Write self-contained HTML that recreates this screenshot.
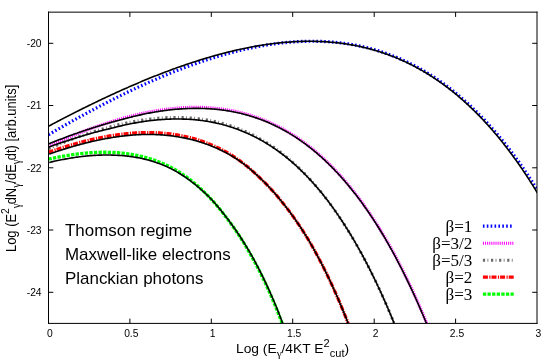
<!DOCTYPE html>
<html><head><meta charset="utf-8"><style>
html,body{margin:0;padding:0;background:#fff;}
svg{display:block;will-change:transform;opacity:0.999}
text{font-family:"Liberation Sans",sans-serif;fill:#000}
.tk{font-size:10.3px}
.lg{font-family:"Liberation Serif",serif;font-size:15.8px}
.an{font-size:15.9px}
.ax{font-size:12.85px}
.ss{font-size:10.3px}
.sy{font-family:"Liberation Serif",serif;font-size:10.6px}
</style></head><body>
<svg width="555" height="364" viewBox="0 0 555 364">
<rect width="555" height="364" fill="#fff"/>
<defs><clipPath id="cp"><rect x="48.5" y="12.15" width="488.5" height="311.25"/></clipPath></defs>
<g clip-path="url(#cp)">
<path d="M48.50,134.73 L49.72,134.01 L50.95,133.30 L52.17,132.58 L53.39,131.87 L54.61,131.16 L55.84,130.45 L57.06,129.75 L58.28,129.04 L59.50,128.34 L60.73,127.64 L61.95,126.94 L63.17,126.24 L64.39,125.54 L65.61,124.85 L66.84,124.16 L68.06,123.47 L69.28,122.78 L70.50,122.09 L71.73,121.40 L72.95,120.72 L74.17,120.04 L75.39,119.36 L76.62,118.68 L77.84,118.00 L79.06,117.33 L80.28,116.66 L81.51,115.99 L82.73,115.32 L83.95,114.65 L85.17,113.99 L86.40,113.32 L87.62,112.66 L88.84,112.00 L90.06,111.35 L91.29,110.69 L92.51,110.04 L93.73,109.39 L94.95,108.74 L96.18,108.09 L97.40,107.45 L98.62,106.81 L99.84,106.16 L101.07,105.53 L102.29,104.89 L103.51,104.26 L104.73,103.62 L105.96,102.99 L107.18,102.37 L108.40,101.74 L109.62,101.12 L110.85,100.50 L112.07,99.88 L113.29,99.26 L114.52,98.65 L115.74,98.04 L116.96,97.43 L118.18,96.82 L119.41,96.21 L120.63,95.61 L121.85,95.01 L123.07,94.41 L124.30,93.82 L125.52,93.22 L126.74,92.63 L127.96,92.04 L129.19,91.46 L130.41,90.87 L131.63,90.29 L132.85,89.71 L134.07,89.13 L135.30,88.56 L136.52,87.99 L137.74,87.42 L138.96,86.85 L140.19,86.29 L141.41,85.73 L142.63,85.17 L143.85,84.61 L145.08,84.06 L146.30,83.51 L147.52,82.96 L148.75,82.41 L149.97,81.87 L151.19,81.33 L152.41,80.79 L153.63,80.26 L154.86,79.73 L156.08,79.20 L157.30,78.67 L158.52,78.15 L159.75,77.63 L160.97,77.11 L162.19,76.59 L163.41,76.08 L164.64,75.57 L165.86,75.06 L167.08,74.56 L168.31,74.06 L169.53,73.56 L170.75,73.06 L171.97,72.57 L173.19,72.08 L174.42,71.60 L175.64,71.11 L176.86,70.63 L178.08,70.16 L179.31,69.68 L180.53,69.21 L181.75,68.74 L182.97,68.28 L184.20,67.82 L185.42,67.36 L186.64,66.90 L187.87,66.45 L189.09,66.00 L190.31,65.56 L191.53,65.11 L192.75,64.67 L193.98,64.24 L195.20,63.81 L196.42,63.38 L197.64,62.95 L198.87,62.53 L200.09,62.11 L201.31,61.70 L202.53,61.28 L203.76,60.87 L204.98,60.47 L206.20,60.07 L207.42,59.67 L208.65,59.28 L209.87,58.88 L211.09,58.50 L212.31,58.11 L213.54,57.73 L214.76,57.36 L215.98,56.98 L217.20,56.61 L218.43,56.25 L219.65,55.89 L220.87,55.53 L222.09,55.18 L223.32,54.83 L224.54,54.48 L225.76,54.14 L226.98,53.80 L228.21,53.46 L229.43,53.13 L230.65,52.80 L231.88,52.48 L233.10,52.16 L234.32,51.85 L235.54,51.54 L236.77,51.23 L237.99,50.93 L239.21,50.63 L240.43,50.33 L241.66,50.04 L242.88,49.76 L244.10,49.48 L245.32,49.20 L246.54,48.92 L247.77,48.65 L248.99,48.39 L250.21,48.13 L251.43,47.87 L252.66,47.62 L253.88,47.37 L255.10,47.13 L256.32,46.89 L257.55,46.66 L258.77,46.43 L259.99,46.20 L261.22,45.98 L262.44,45.77 L263.66,45.56 L264.88,45.35 L266.11,45.15 L267.33,44.95 L268.55,44.76 L269.77,44.57 L271.00,44.39 L272.22,44.21 L273.44,44.04 L274.66,43.87 L275.88,43.70 L277.11,43.55 L278.33,43.39 L279.55,43.24 L280.77,43.10 L282.00,42.96 L283.22,42.83 L284.44,42.70 L285.66,42.58 L286.89,42.46 L288.11,42.35 L289.33,42.24 L290.55,42.14 L291.78,42.04 L293.00,41.95 L294.22,41.86 L295.44,41.78 L296.67,41.71 L297.89,41.64 L299.11,41.57 L300.33,41.51 L301.56,41.46 L302.78,41.41 L304.00,41.37 L305.22,41.34 L306.45,41.30 L307.67,41.28 L308.89,41.26 L310.12,41.25 L311.34,41.24 L312.56,41.24 L313.78,41.24 L315.00,41.25 L316.23,41.27 L317.45,41.29 L318.67,41.32 L319.89,41.35 L321.12,41.39 L322.34,41.44 L323.56,41.49 L324.78,41.55 L326.01,41.62 L327.23,41.69 L328.45,41.77 L329.67,41.85 L330.90,41.94 L332.12,42.04 L333.34,42.14 L334.56,42.25 L335.79,42.37 L337.01,42.49 L338.23,42.62 L339.45,42.76 L340.68,42.90 L341.90,43.05 L343.12,43.21 L344.34,43.37 L345.57,43.54 L346.79,43.72 L348.01,43.90 L349.24,44.09 L350.46,44.29 L351.68,44.50 L352.90,44.71 L354.12,44.93 L355.35,45.16 L356.57,45.39 L357.79,45.63 L359.01,45.88 L360.24,46.14 L361.46,46.40 L362.68,46.67 L363.90,46.95 L365.13,47.24 L366.35,47.53 L367.57,47.83 L368.79,48.14 L370.02,48.46 L371.24,48.79 L372.46,49.12 L373.69,49.46 L374.91,49.81 L376.13,50.16 L377.35,50.53 L378.57,50.90 L379.80,51.28 L381.02,51.67 L382.24,52.07 L383.46,52.47 L384.69,52.89 L385.91,53.31 L387.13,53.74 L388.36,54.18 L389.58,54.63 L390.80,55.08 L392.02,55.55 L393.24,56.02 L394.47,56.50 L395.69,56.99 L396.91,57.49 L398.13,58.00 L399.36,58.52 L400.58,59.04 L401.80,59.58 L403.02,60.12 L404.25,60.68 L405.47,61.24 L406.69,61.81 L407.92,62.39 L409.14,62.99 L410.36,63.59 L411.58,64.20 L412.81,64.81 L414.03,65.44 L415.25,66.08 L416.47,66.73 L417.69,67.39 L418.92,68.06 L420.14,68.73 L421.36,69.42 L422.58,70.12 L423.81,70.83 L425.03,71.54 L426.25,72.27 L427.47,73.01 L428.70,73.76 L429.92,74.52 L431.14,75.29 L432.37,76.07 L433.59,76.86 L434.81,77.66 L436.03,78.47 L437.25,79.29 L438.48,80.12 L439.70,80.97 L440.92,81.82 L442.14,82.69 L443.37,83.57 L444.59,84.45 L445.81,85.35 L447.03,86.26 L448.26,87.19 L449.48,88.12 L450.70,89.06 L451.93,90.02 L453.15,90.99 L454.37,91.97 L455.59,92.96 L456.81,93.96 L458.04,94.97 L459.26,96.00 L460.48,97.04 L461.70,98.09 L462.93,99.15 L464.15,100.23 L465.37,101.32 L466.59,102.42 L467.82,103.53 L469.04,104.65 L470.26,105.79 L471.48,106.94 L472.71,108.10 L473.93,109.28 L475.15,110.47 L476.38,111.67 L477.60,112.88 L478.82,114.11 L480.04,115.35 L481.26,116.61 L482.49,117.87 L483.71,119.15 L484.93,120.45 L486.16,121.76 L487.38,123.08 L488.60,124.41 L489.82,125.76 L491.04,127.13 L492.27,128.50 L493.49,129.89 L494.71,131.30 L495.94,132.72 L497.16,134.15 L498.38,135.60 L499.60,137.07 L500.82,138.54 L502.05,140.04 L503.27,141.54 L504.49,143.07 L505.71,144.60 L506.94,146.15 L508.16,147.72 L509.38,149.30 L510.61,150.90 L511.83,152.51 L513.05,154.14 L514.27,155.79 L515.49,157.45 L516.72,159.12 L517.94,160.81 L519.16,162.52 L520.38,164.24 L521.61,165.98 L522.83,167.74 L524.05,169.51 L525.27,171.30 L526.50,173.11 L527.72,174.93 L528.94,176.77 L530.16,178.62 L531.39,180.49 L532.61,182.38 L533.83,184.29 L535.06,186.21 L536.28,188.15 L537.50,190.11" fill="none" stroke="#0000ff" stroke-width="3.2" stroke-dasharray="1.6 2.28"/>
<path d="M48.50,146.16 L49.72,145.60 L50.95,145.05 L52.17,144.49 L53.39,143.94 L54.61,143.39 L55.84,142.85 L57.06,142.31 L58.28,141.77 L59.50,141.23 L60.73,140.70 L61.95,140.17 L63.17,139.64 L64.39,139.12 L65.61,138.60 L66.84,138.08 L68.06,137.56 L69.28,137.05 L70.50,136.55 L71.73,136.04 L72.95,135.54 L74.17,135.04 L75.39,134.55 L76.62,134.06 L77.84,133.57 L79.06,133.08 L80.28,132.60 L81.51,132.13 L82.73,131.65 L83.95,131.18 L85.17,130.72 L86.40,130.25 L87.62,129.79 L88.84,129.34 L90.06,128.88 L91.29,128.44 L92.51,127.99 L93.73,127.55 L94.95,127.11 L96.18,126.68 L97.40,126.25 L98.62,125.82 L99.84,125.40 L101.07,124.98 L102.29,124.57 L103.51,124.16 L104.73,123.75 L105.96,123.35 L107.18,122.95 L108.40,122.56 L109.62,122.17 L110.85,121.78 L112.07,121.40 L113.29,121.02 L114.52,120.65 L115.74,120.28 L116.96,119.92 L118.18,119.56 L119.41,119.20 L120.63,118.85 L121.85,118.51 L123.07,118.16 L124.30,117.83 L125.52,117.49 L126.74,117.16 L127.96,116.84 L129.19,116.52 L130.41,116.21 L131.63,115.90 L132.85,115.59 L134.07,115.29 L135.30,115.00 L136.52,114.71 L137.74,114.42 L138.96,114.14 L140.19,113.87 L141.41,113.59 L142.63,113.33 L143.85,113.07 L145.08,112.81 L146.30,112.56 L147.52,112.32 L148.75,112.08 L149.97,111.85 L151.19,111.62 L152.41,111.39 L153.63,111.17 L154.86,110.96 L156.08,110.76 L157.30,110.55 L158.52,110.36 L159.75,110.17 L160.97,109.98 L162.19,109.80 L163.41,109.63 L164.64,109.46 L165.86,109.30 L167.08,109.15 L168.31,109.00 L169.53,108.85 L170.75,108.72 L171.97,108.58 L173.19,108.46 L174.42,108.34 L175.64,108.23 L176.86,108.12 L178.08,108.02 L179.31,107.92 L180.53,107.84 L181.75,107.76 L182.97,107.68 L184.20,107.61 L185.42,107.55 L186.64,107.50 L187.87,107.45 L189.09,107.41 L190.31,107.37 L191.53,107.34 L192.75,107.32 L193.98,107.31 L195.20,107.30 L196.42,107.30 L197.64,107.31 L198.87,107.32 L200.09,107.35 L201.31,107.37 L202.53,107.41 L203.76,107.45 L204.98,107.50 L206.20,107.56 L207.42,107.63 L208.65,107.70 L209.87,107.78 L211.09,107.87 L212.31,107.97 L213.54,108.08 L214.76,108.19 L215.98,108.31 L217.20,108.44 L218.43,108.57 L219.65,108.72 L220.87,108.87 L222.09,109.03 L223.32,109.20 L224.54,109.38 L225.76,109.57 L226.98,109.76 L228.21,109.97 L229.43,110.18 L230.65,110.40 L231.88,110.63 L233.10,110.87 L234.32,111.12 L235.54,111.38 L236.77,111.64 L237.99,111.92 L239.21,112.20 L240.43,112.49 L241.66,112.80 L242.88,113.11 L244.10,113.43 L245.32,113.76 L246.54,114.10 L247.77,114.45 L248.99,114.81 L250.21,115.18 L251.43,115.56 L252.66,115.95 L253.88,116.35 L255.10,116.76 L256.32,117.19 L257.55,117.62 L258.77,118.06 L259.99,118.51 L261.22,118.97 L262.44,119.44 L263.66,119.93 L264.88,120.42 L266.11,120.93 L267.33,121.44 L268.55,121.97 L269.77,122.51 L271.00,123.06 L272.22,123.62 L273.44,124.19 L274.66,124.77 L275.88,125.37 L277.11,125.98 L278.33,126.59 L279.55,127.23 L280.77,127.87 L282.00,128.52 L283.22,129.19 L284.44,129.87 L285.66,130.56 L286.89,131.26 L288.11,131.98 L289.33,132.70 L290.55,133.44 L291.78,134.20 L293.00,134.96 L294.22,135.74 L295.44,136.53 L296.67,137.34 L297.89,138.16 L299.11,138.99 L300.33,139.83 L301.56,140.69 L302.78,141.57 L304.00,142.45 L305.22,143.35 L306.45,144.27 L307.67,145.19 L308.89,146.13 L310.12,147.09 L311.34,148.06 L312.56,149.05 L313.78,150.05 L315.00,151.06 L316.23,152.09 L317.45,153.13 L318.67,154.19 L319.89,155.27 L321.12,156.36 L322.34,157.46 L323.56,158.58 L324.78,159.72 L326.01,160.87 L327.23,162.04 L328.45,163.22 L329.67,164.42 L330.90,165.63 L332.12,166.87 L333.34,168.12 L334.56,169.38 L335.79,170.66 L337.01,171.96 L338.23,173.28 L339.45,174.61 L340.68,175.96 L341.90,177.33 L343.12,178.71 L344.34,180.11 L345.57,181.53 L346.79,182.97 L348.01,184.43 L349.24,185.90 L350.46,187.39 L351.68,188.90 L352.90,190.43 L354.12,191.98 L355.35,193.55 L356.57,195.13 L357.79,196.74 L359.01,198.36 L360.24,200.01 L361.46,201.67 L362.68,203.35 L363.90,205.05 L365.13,206.78 L366.35,208.52 L367.57,210.28 L368.79,212.07 L370.02,213.87 L371.24,215.70 L372.46,217.54 L373.69,219.41 L374.91,221.30 L376.13,223.21 L377.35,225.14 L378.57,227.09 L379.80,229.07 L381.02,231.06 L382.24,233.08 L383.46,235.13 L384.69,237.19 L385.91,239.28 L387.13,241.39 L388.36,243.52 L389.58,245.68 L390.80,247.86 L392.02,250.06 L393.24,252.29 L394.47,254.54 L395.69,256.81 L396.91,259.11 L398.13,261.44 L399.36,263.79 L400.58,266.16 L401.80,268.56 L403.02,270.98 L404.25,273.43 L405.47,275.91 L406.69,278.41 L407.92,280.94 L409.14,283.49 L410.36,286.07 L411.58,288.68 L412.81,291.31 L414.03,293.97 L415.25,296.66 L416.47,299.38 L417.69,302.12 L418.92,304.89 L420.14,307.69 L421.36,310.52 L422.58,313.37 L423.81,316.26 L425.03,319.17 L426.25,322.12 L426.78,323.40" fill="none" stroke="#ff00ff" stroke-width="3.1" stroke-dasharray="1.05 1.05"/>
<path d="M48.50,148.70 L49.72,148.18 L50.94,147.66 L52.16,147.14 L53.39,146.63 L54.61,146.11 L55.83,145.61 L57.05,145.10 L58.27,144.60 L59.49,144.10 L60.71,143.61 L61.94,143.12 L63.16,142.63 L64.38,142.15 L65.60,141.67 L66.82,141.19 L68.04,140.72 L69.26,140.25 L70.49,139.78 L71.71,139.32 L72.93,138.86 L74.15,138.41 L75.37,137.96 L76.59,137.51 L77.81,137.07 L79.04,136.63 L80.26,136.19 L81.48,135.76 L82.70,135.34 L83.92,134.91 L85.14,134.49 L86.36,134.08 L87.59,133.67 L88.81,133.26 L90.03,132.86 L91.25,132.46 L92.47,132.07 L93.69,131.68 L94.91,131.29 L96.14,130.91 L97.36,130.53 L98.58,130.16 L99.80,129.79 L101.02,129.43 L102.24,129.07 L103.46,128.71 L104.69,128.36 L105.91,128.02 L107.13,127.68 L108.35,127.34 L109.57,127.01 L110.79,126.69 L112.01,126.37 L113.24,126.05 L114.46,125.74 L115.68,125.43 L116.90,125.13 L118.12,124.83 L119.34,124.54 L120.56,124.26 L121.79,123.97 L123.01,123.70 L124.23,123.43 L125.45,123.16 L126.67,122.90 L127.89,122.65 L129.11,122.40 L130.34,122.15 L131.56,121.92 L132.78,121.68 L134.00,121.46 L135.22,121.23 L136.44,121.02 L137.66,120.81 L138.89,120.60 L140.11,120.41 L141.33,120.21 L142.55,120.03 L143.77,119.85 L144.99,119.67 L146.21,119.50 L147.44,119.34 L148.66,119.18 L149.88,119.03 L151.10,118.89 L152.32,118.75 L153.54,118.62 L154.76,118.50 L155.99,118.38 L157.21,118.27 L158.43,118.16 L159.65,118.06 L160.87,117.97 L162.09,117.89 L163.31,117.81 L164.54,117.74 L165.76,117.67 L166.98,117.61 L168.20,117.56 L169.42,117.52 L170.64,117.48 L171.86,117.45 L173.09,117.43 L174.31,117.42 L175.53,117.41 L176.75,117.41 L177.97,117.42 L179.19,117.43 L180.41,117.46 L181.64,117.49 L182.86,117.53 L184.08,117.57 L185.30,117.63 L186.52,117.69 L187.74,117.76 L188.96,117.84 L190.19,117.92 L191.41,118.02 L192.63,118.12 L193.85,118.23 L195.07,118.35 L196.29,118.48 L197.51,118.61 L198.74,118.76 L199.96,118.91 L201.18,119.07 L202.40,119.25 L203.62,119.43 L204.84,119.61 L206.06,119.81 L207.29,120.02 L208.51,120.24 L209.73,120.46 L210.95,120.70 L212.17,120.94 L213.39,121.19 L214.61,121.46 L215.84,121.73 L217.06,122.01 L218.28,122.31 L219.50,122.61 L220.72,122.92 L221.94,123.24 L223.16,123.58 L224.39,123.92 L225.61,124.27 L226.83,124.63 L228.05,125.01 L229.27,125.39 L230.49,125.79 L231.71,126.19 L232.94,126.61 L234.16,127.04 L235.38,127.48 L236.60,127.92 L237.82,128.39 L239.04,128.86 L240.26,129.34 L241.49,129.83 L242.71,130.34 L243.93,130.86 L245.15,131.39 L246.37,131.93 L247.59,132.48 L248.81,133.05 L250.04,133.62 L251.26,134.21 L252.48,134.81 L253.70,135.43 L254.92,136.05 L256.14,136.69 L257.36,137.35 L258.59,138.01 L259.81,138.69 L261.03,139.38 L262.25,140.08 L263.47,140.80 L264.69,141.53 L265.91,142.27 L267.14,143.03 L268.36,143.80 L269.58,144.58 L270.80,145.38 L272.02,146.20 L273.24,147.02 L274.46,147.86 L275.69,148.72 L276.90,149.59 L278.12,150.47 L279.33,151.37 L280.54,152.28 L281.76,153.21 L282.97,154.16 L284.18,155.11 L285.40,156.09 L286.61,157.08 L287.82,158.08 L289.04,159.10 L290.25,160.14 L291.46,161.19 L292.68,162.26 L293.89,163.35 L295.10,164.45 L296.31,165.56 L297.53,166.70 L298.74,167.85 L299.95,169.02 L301.17,170.20 L302.38,171.40 L303.59,172.62 L304.81,173.86 L306.02,175.11 L307.23,176.38 L308.45,177.67 L309.66,178.98 L310.87,180.31 L312.08,181.65 L313.30,183.01 L314.51,184.39 L315.72,185.79 L316.94,187.21 L318.15,188.65 L319.36,190.11 L320.58,191.58 L321.79,193.08 L323.00,194.59 L324.22,196.13 L325.43,197.68 L326.64,199.26 L327.86,200.86 L329.07,202.47 L330.28,204.11 L331.50,205.77 L332.71,207.44 L333.92,209.14 L335.13,210.87 L336.35,212.61 L337.56,214.37 L338.77,216.16 L339.99,217.97 L341.20,219.80 L342.42,221.65 L343.64,223.52 L344.87,225.42 L346.09,227.34 L347.31,229.29 L348.54,231.26 L349.76,233.25 L350.98,235.26 L352.20,237.30 L353.43,239.36 L354.65,241.45 L355.87,243.56 L357.09,245.70 L358.31,247.86 L359.54,250.04 L360.76,252.26 L361.98,254.49 L363.20,256.75 L364.43,259.04 L365.65,261.36 L366.87,263.70 L368.09,266.07 L369.32,268.46 L370.54,270.88 L371.76,273.33 L372.99,275.81 L374.21,278.31 L375.43,280.84 L376.65,283.40 L377.88,285.99 L379.10,288.60 L380.32,291.25 L381.54,293.92 L382.76,296.63 L383.99,299.36 L385.21,302.12 L386.43,304.92 L387.66,307.74 L388.88,310.59 L390.10,313.48 L391.32,316.39 L392.54,319.34 L393.77,322.32 L394.21,323.40" fill="none" stroke="#6a6a6a" stroke-width="3.0" stroke-dasharray="2.2 2.4 0.8 2.7"/>
<path d="M48.50,152.20 L49.72,151.77 L50.95,151.35 L52.17,150.94 L53.39,150.52 L54.61,150.11 L55.84,149.70 L57.06,149.30 L58.28,148.90 L59.50,148.51 L60.73,148.11 L61.95,147.72 L63.17,147.34 L64.39,146.96 L65.61,146.58 L66.84,146.21 L68.06,145.84 L69.28,145.47 L70.50,145.11 L71.73,144.76 L72.95,144.40 L74.17,144.05 L75.39,143.71 L76.62,143.37 L77.84,143.03 L79.06,142.70 L80.28,142.37 L81.51,142.05 L82.73,141.73 L83.95,141.42 L85.17,141.11 L86.40,140.80 L87.62,140.50 L88.84,140.21 L90.06,139.92 L91.29,139.63 L92.51,139.35 L93.73,139.07 L94.95,138.80 L96.18,138.54 L97.40,138.27 L98.62,138.02 L99.84,137.77 L101.07,137.52 L102.29,137.28 L103.51,137.04 L104.73,136.81 L105.96,136.59 L107.18,136.37 L108.40,136.15 L109.62,135.95 L110.85,135.74 L112.07,135.54 L113.29,135.35 L114.52,135.17 L115.74,134.99 L116.96,134.81 L118.18,134.64 L119.41,134.48 L120.63,134.33 L121.85,134.18 L123.07,134.03 L124.30,133.89 L125.52,133.76 L126.74,133.64 L127.96,133.52 L129.19,133.41 L130.41,133.30 L131.63,133.20 L132.85,133.11 L134.07,133.02 L135.30,132.94 L136.52,132.87 L137.74,132.81 L138.96,132.75 L140.19,132.70 L141.41,132.65 L142.63,132.62 L143.85,132.59 L145.08,132.57 L146.30,132.55 L147.52,132.54 L148.75,132.54 L149.97,132.55 L151.19,132.57 L152.41,132.59 L153.63,132.62 L154.86,132.66 L156.08,132.71 L157.30,132.77 L158.52,132.83 L159.75,132.90 L160.97,132.98 L162.19,133.07 L163.41,133.17 L164.64,133.28 L165.86,133.39 L167.08,133.52 L168.31,133.65 L169.53,133.79 L170.75,133.94 L171.97,134.10 L173.19,134.27 L174.42,134.45 L175.64,134.64 L176.86,134.84 L178.08,135.04 L179.31,135.26 L180.53,135.49 L181.75,135.72 L182.97,135.97 L184.20,136.23 L185.42,136.49 L186.64,136.77 L187.87,137.06 L189.09,137.35 L190.31,137.66 L191.53,137.98 L192.75,138.31 L193.98,138.65 L195.20,139.01 L196.42,139.37 L197.64,139.74 L198.87,140.13 L200.09,140.53 L201.31,140.94 L202.53,141.36 L203.76,141.79 L204.98,142.24 L206.20,142.69 L207.42,143.16 L208.65,143.64 L209.87,144.14 L211.09,144.64 L212.31,145.16 L213.54,145.69 L214.76,146.24 L215.98,146.79 L217.20,147.37 L218.43,147.95 L219.65,148.55 L220.87,149.16 L222.09,149.78 L223.32,150.42 L224.54,151.08 L225.76,151.74 L226.98,152.42 L228.21,153.12 L229.43,153.83 L230.65,154.55 L231.84,155.29 L233.01,156.05 L234.18,156.82 L235.34,157.60 L236.51,158.41 L237.68,159.22 L238.85,160.05 L240.02,160.90 L241.19,161.77 L242.35,162.65 L243.52,163.54 L244.69,164.46 L245.86,165.39 L247.03,166.33 L248.20,167.30 L249.36,168.28 L250.53,169.28 L251.70,170.29 L252.87,171.33 L254.04,172.38 L255.21,173.45 L256.37,174.54 L257.54,175.64 L258.71,176.77 L259.92,177.91 L261.15,179.08 L262.37,180.26 L263.60,181.46 L264.83,182.68 L266.06,183.92 L267.28,185.18 L268.51,186.47 L269.74,187.77 L270.97,189.09 L272.19,190.43 L273.42,191.80 L274.65,193.18 L275.88,194.59 L277.10,196.02 L278.33,197.47 L279.56,198.94 L280.79,200.43 L282.01,201.95 L283.24,203.49 L284.48,205.05 L285.73,206.64 L286.98,208.25 L288.22,209.88 L289.47,211.54 L290.72,213.22 L291.97,214.92 L293.21,216.65 L294.46,218.41 L295.71,220.19 L296.96,221.99 L298.20,223.82 L299.45,225.68 L300.70,227.56 L301.95,229.47 L303.19,231.40 L304.44,233.37 L305.69,235.36 L306.94,237.37 L308.18,239.42 L309.42,241.49 L310.64,243.59 L311.86,245.72 L313.08,247.88 L314.31,250.07 L315.53,252.28 L316.75,254.53 L317.98,256.80 L319.20,259.11 L320.42,261.45 L321.65,263.82 L322.87,266.21 L324.09,268.64 L325.31,271.11 L326.54,273.60 L327.76,276.13 L328.98,278.69 L330.21,281.28 L331.43,283.91 L332.65,286.57 L333.88,289.26 L335.10,291.99 L336.32,294.75 L337.55,297.55 L338.77,300.38 L339.99,303.25 L341.21,306.16 L342.44,309.10 L343.66,312.08 L344.88,315.09 L346.11,318.15 L347.33,321.24 L348.17,323.40" fill="none" stroke="#ff0000" stroke-width="3.2" stroke-dasharray="5 1.4 1.2 1.0"/>
<path d="M48.50,159.24 L49.72,158.96 L50.95,158.69 L52.17,158.42 L53.39,158.16 L54.61,157.90 L55.84,157.64 L57.06,157.40 L58.28,157.15 L59.50,156.91 L60.73,156.68 L61.95,156.45 L63.17,156.22 L64.39,156.01 L65.61,155.79 L66.84,155.59 L68.06,155.38 L69.28,155.19 L70.50,155.00 L71.73,154.81 L72.95,154.63 L74.17,154.46 L75.39,154.29 L76.62,154.13 L77.84,153.97 L79.06,153.82 L80.28,153.68 L81.51,153.54 L82.73,153.41 L83.95,153.28 L85.17,153.17 L86.40,153.06 L87.62,152.95 L88.84,152.85 L90.06,152.76 L91.29,152.68 L92.51,152.60 L93.73,152.53 L94.95,152.47 L96.18,152.41 L97.40,152.36 L98.62,152.32 L99.84,152.29 L101.07,152.27 L102.29,152.25 L103.51,152.24 L104.73,152.24 L105.96,152.24 L107.18,152.26 L108.40,152.28 L109.62,152.31 L110.85,152.35 L112.07,152.40 L113.29,152.46 L114.52,152.52 L115.74,152.59 L116.96,152.68 L118.18,152.77 L119.41,152.87 L120.63,152.98 L121.85,153.10 L123.07,153.23 L124.30,153.37 L125.52,153.52 L126.74,153.68 L127.96,153.85 L129.19,154.03 L130.41,154.22 L131.63,154.42 L132.85,154.63 L134.07,154.85 L135.30,155.09 L136.52,155.33 L137.74,155.58 L138.96,155.85 L140.19,156.13 L141.41,156.42 L142.63,156.72 L143.85,157.03 L145.08,157.35 L146.30,157.69 L147.52,158.04 L148.75,158.40 L149.97,158.77 L151.19,159.16 L152.41,159.56 L153.63,159.97 L154.86,160.39 L156.08,160.83 L157.30,161.28 L158.52,161.75 L159.75,162.23 L160.97,162.72 L162.19,163.23 L163.41,163.75 L164.64,164.29 L165.86,164.84 L167.08,165.41 L168.31,165.99 L169.53,166.59 L170.75,167.20 L171.92,167.83 L173.10,168.47 L174.27,169.13 L175.44,169.81 L176.62,170.50 L177.79,171.21 L178.97,171.93 L180.14,172.68 L181.31,173.44 L182.49,174.22 L183.66,175.01 L184.83,175.83 L186.01,176.66 L187.18,177.51 L188.36,178.38 L189.53,179.27 L190.70,180.17 L191.88,181.10 L193.05,182.05 L194.22,183.01 L195.40,184.00 L196.57,185.01 L197.75,186.03 L198.92,187.08 L200.09,188.15 L201.27,189.24 L202.45,190.35 L203.64,191.49 L204.83,192.64 L206.02,193.82 L207.22,195.02 L208.41,196.25 L209.60,197.49 L210.79,198.77 L211.99,200.06 L213.18,201.38 L214.37,202.72 L215.56,204.09 L216.76,205.49 L217.95,206.90 L219.14,208.35 L220.34,209.82 L221.53,211.32 L222.72,212.84 L223.91,214.39 L225.10,215.97 L226.32,217.58 L227.58,219.21 L228.83,220.87 L230.09,222.56 L231.35,224.28 L232.61,226.03 L233.86,227.81 L235.12,229.62 L236.38,231.46 L237.64,233.33 L238.89,235.24 L240.15,237.17 L241.41,239.14 L242.67,241.14 L243.92,243.17 L245.18,245.23 L246.44,247.33 L247.70,249.46 L248.95,251.63 L250.21,253.83 L251.47,256.07 L252.73,258.35 L253.98,260.66 L255.24,263.00 L256.50,265.39 L257.76,267.81 L259.01,270.27 L260.27,272.77 L261.53,275.31 L262.79,277.89 L264.04,280.51 L265.30,283.16 L266.56,285.86 L267.82,288.61 L269.07,291.39 L270.33,294.22 L271.59,297.09 L272.85,300.00 L274.10,302.96 L275.36,305.96 L276.61,309.01 L277.83,312.10 L279.05,315.24 L280.27,318.43 L281.50,321.66 L282.14,323.40" fill="none" stroke="#00ff00" stroke-width="3.3" stroke-dasharray="3.3 1.3"/>
<path d="M48.50,126.24 L49.72,125.58 L50.95,124.94 L52.17,124.29 L53.39,123.64 L54.61,123.00 L55.84,122.35 L57.06,121.71 L58.28,121.07 L59.50,120.43 L60.73,119.80 L61.95,119.16 L63.17,118.53 L64.39,117.89 L65.61,117.26 L66.84,116.63 L68.06,116.00 L69.28,115.38 L70.50,114.75 L71.73,114.13 L72.95,113.51 L74.17,112.89 L75.39,112.27 L76.62,111.65 L77.84,111.04 L79.06,110.42 L80.28,109.81 L81.51,109.20 L82.73,108.59 L83.95,107.99 L85.17,107.38 L86.40,106.78 L87.62,106.18 L88.84,105.58 L90.06,104.98 L91.29,104.38 L92.51,103.79 L93.73,103.19 L94.95,102.60 L96.18,102.01 L97.40,101.43 L98.62,100.84 L99.84,100.26 L101.07,99.67 L102.29,99.09 L103.51,98.52 L104.73,97.94 L105.96,97.37 L107.18,96.79 L108.40,96.22 L109.62,95.66 L110.85,95.09 L112.07,94.52 L113.29,93.96 L114.52,93.40 L115.74,92.84 L116.96,92.29 L118.18,91.73 L119.41,91.18 L120.63,90.63 L121.85,90.08 L123.07,89.53 L124.30,88.99 L125.52,88.45 L126.74,87.91 L127.96,87.37 L129.19,86.84 L130.41,86.30 L131.63,85.77 L132.85,85.24 L134.07,84.72 L135.30,84.19 L136.52,83.67 L137.74,83.15 L138.96,82.63 L140.19,82.12 L141.41,81.60 L142.63,81.09 L143.85,80.58 L145.08,80.08 L146.30,79.57 L147.52,79.07 L148.75,78.57 L149.97,78.08 L151.19,77.58 L152.41,77.09 L153.63,76.60 L154.86,76.11 L156.08,75.63 L157.30,75.15 L158.52,74.67 L159.75,74.19 L160.97,73.72 L162.19,73.25 L163.41,72.78 L164.64,72.31 L165.86,71.85 L167.08,71.38 L168.31,70.93 L169.53,70.47 L170.75,70.02 L171.97,69.57 L173.19,69.12 L174.42,68.67 L175.64,68.23 L176.86,67.79 L178.08,67.35 L179.31,66.92 L180.53,66.49 L181.75,66.06 L182.97,65.64 L184.20,65.21 L185.42,64.79 L186.64,64.38 L187.87,63.96 L189.09,63.55 L190.31,63.14 L191.53,62.74 L192.75,62.34 L193.98,61.94 L195.20,61.54 L196.42,61.15 L197.64,60.76 L198.87,60.37 L200.09,59.99 L201.31,59.61 L202.53,59.23 L203.76,58.86 L204.98,58.49 L206.20,58.12 L207.42,57.76 L208.65,57.40 L209.87,57.04 L211.09,56.69 L212.31,56.34 L213.54,55.99 L214.76,55.64 L215.98,55.30 L217.20,54.97 L218.43,54.63 L219.65,54.30 L220.87,53.98 L222.09,53.65 L223.32,53.33 L224.54,53.02 L225.76,52.70 L226.98,52.39 L228.21,52.09 L229.43,51.79 L230.65,51.49 L231.88,51.20 L233.10,50.90 L234.32,50.62 L235.54,50.33 L236.77,50.06 L237.99,49.78 L239.21,49.51 L240.43,49.24 L241.66,48.98 L242.88,48.72 L244.10,48.46 L245.32,48.21 L246.54,47.96 L247.77,47.72 L248.99,47.48 L250.21,47.24 L251.43,47.01 L252.66,46.78 L253.88,46.56 L255.10,46.34 L256.32,46.13 L257.55,45.91 L258.77,45.71 L259.99,45.51 L261.22,45.31 L262.44,45.11 L263.66,44.93 L264.88,44.74 L266.11,44.56 L267.33,44.39 L268.55,44.21 L269.77,44.05 L271.00,43.88 L272.22,43.73 L273.44,43.57 L274.66,43.43 L275.88,43.28 L277.11,43.14 L278.33,43.01 L279.55,42.88 L280.77,42.75 L282.00,42.63 L283.22,42.52 L284.44,42.41 L285.66,42.30 L286.89,42.20 L288.11,42.11 L289.33,42.02 L290.55,41.93 L291.78,41.85 L293.00,41.78 L294.22,41.71 L295.44,41.64 L296.67,41.58 L297.89,41.53 L299.11,41.48 L300.33,41.44 L301.56,41.40 L302.78,41.37 L304.00,41.34 L305.22,41.32 L306.45,41.30 L307.67,41.29 L308.89,41.28 L310.12,41.28 L311.34,41.29 L312.56,41.30 L313.78,41.32 L315.00,41.34 L316.23,41.37 L317.45,41.40 L318.67,41.44 L319.89,41.49 L321.12,41.54 L322.34,41.60 L323.56,41.66 L324.78,41.73 L326.01,41.81 L327.23,41.89 L328.45,41.98 L329.67,42.08 L330.90,42.18 L332.12,42.28 L333.34,42.40 L334.56,42.52 L335.79,42.64 L337.01,42.78 L338.23,42.91 L339.45,43.06 L340.68,43.21 L341.90,43.37 L343.12,43.54 L344.34,43.71 L345.57,43.89 L346.79,44.07 L348.01,44.27 L349.24,44.47 L350.46,44.67 L351.68,44.89 L352.90,45.11 L354.12,45.33 L355.35,45.57 L356.57,45.81 L357.79,46.06 L359.01,46.32 L360.24,46.58 L361.46,46.85 L362.68,47.13 L363.90,47.41 L365.13,47.71 L366.35,48.01 L367.57,48.31 L368.79,48.63 L370.02,48.95 L371.24,49.28 L372.46,49.62 L373.69,49.97 L374.91,50.32 L376.13,50.69 L377.35,51.06 L378.57,51.44 L379.80,51.82 L381.02,52.22 L382.24,52.62 L383.46,53.03 L384.69,53.45 L385.91,53.88 L387.13,54.31 L388.36,54.76 L389.58,55.21 L390.80,55.67 L392.02,56.14 L393.24,56.62 L394.47,57.11 L395.69,57.61 L396.91,58.11 L398.13,58.62 L399.36,59.15 L400.58,59.68 L401.80,60.22 L403.02,60.77 L404.25,61.33 L405.47,61.90 L406.69,62.48 L407.92,63.06 L409.14,63.66 L410.36,64.27 L411.58,64.88 L412.81,65.51 L414.03,66.14 L415.25,66.79 L416.47,67.44 L417.69,68.11 L418.92,68.78 L420.14,69.46 L421.36,70.16 L422.58,70.86 L423.81,71.58 L425.03,72.30 L426.25,73.04 L427.47,73.78 L428.70,74.54 L429.92,75.30 L431.14,76.08 L432.37,76.87 L433.59,77.67 L434.81,78.48 L436.03,79.30 L437.25,80.13 L438.48,80.97 L439.70,81.82 L440.92,82.69 L442.14,83.56 L443.37,84.45 L444.59,85.35 L445.81,86.26 L447.03,87.18 L448.26,88.11 L449.48,89.05 L450.70,90.01 L451.93,90.98 L453.15,91.96 L454.37,92.95 L455.59,93.95 L456.81,94.97 L458.04,95.99 L459.26,97.03 L460.48,98.09 L461.70,99.15 L462.93,100.23 L464.15,101.32 L465.37,102.42 L466.59,103.54 L467.82,104.66 L469.04,105.81 L470.26,106.96 L471.48,108.13 L472.71,109.31 L473.93,110.50 L475.15,111.71 L476.38,112.93 L477.60,114.16 L478.82,115.41 L480.04,116.67 L481.26,117.94 L482.49,119.23 L483.71,120.54 L484.93,121.85 L486.16,123.18 L487.38,124.53 L488.60,125.89 L489.82,127.26 L491.04,128.65 L492.27,130.05 L493.49,131.47 L494.71,132.90 L495.94,134.35 L497.16,135.81 L498.38,137.29 L499.60,138.78 L500.82,140.29 L502.05,141.81 L503.27,143.35 L504.49,144.90 L505.71,146.47 L506.94,148.06 L508.16,149.66 L509.38,151.28 L510.61,152.91 L511.83,154.56 L513.05,156.23 L514.27,157.91 L515.49,159.61 L516.72,161.32 L517.94,163.05 L519.16,164.80 L520.38,166.57 L521.61,168.35 L522.83,170.15 L524.05,171.97 L525.27,173.80 L526.50,175.65 L527.72,177.52 L528.94,179.41 L530.16,181.32 L531.39,183.24 L532.61,185.18 L533.83,187.14 L535.06,189.12 L536.28,191.11 L537.50,193.13" fill="none" stroke="#000" stroke-width="1.6"/>
<path d="M48.50,144.34 L48.91,143.83 L50.16,143.33 L51.41,142.82 L52.66,142.32 L53.91,141.82 L55.16,141.32 L56.40,140.83 L57.65,140.34 L58.90,139.85 L60.15,139.37 L61.39,138.89 L62.64,138.41 L63.89,137.94 L65.13,137.46 L66.38,137.00 L67.63,136.53 L68.87,136.07 L70.12,135.61 L71.36,135.16 L72.61,134.71 L73.86,134.26 L75.10,133.82 L76.35,133.38 L77.59,132.94 L78.84,132.51 L80.08,132.08 L81.32,131.65 L82.57,131.23 L83.81,130.81 L85.06,130.40 L86.30,129.99 L87.54,129.58 L88.78,129.18 L90.03,128.78 L91.27,128.38 L92.51,127.99 L93.75,127.59 L94.98,127.19 L96.22,126.80 L97.46,126.41 L98.69,126.02 L99.93,125.64 L101.16,125.26 L102.40,124.88 L103.63,124.51 L104.87,124.15 L106.10,123.79 L107.33,123.43 L108.57,123.07 L109.80,122.73 L111.03,122.38 L112.27,122.04 L113.50,121.70 L114.73,121.37 L115.96,121.04 L117.20,120.72 L118.43,120.40 L119.66,120.08 L120.89,119.77 L122.12,119.47 L123.34,119.13 L124.56,118.79 L125.78,118.46 L127.00,118.14 L128.22,117.82 L129.44,117.50 L130.66,117.19 L131.88,116.88 L133.10,116.58 L134.32,116.28 L135.53,115.99 L136.75,115.70 L137.97,115.42 L139.19,115.14 L140.41,114.87 L141.63,114.60 L142.85,114.33 L144.07,114.08 L145.29,113.82 L146.50,113.58 L147.72,113.33 L148.94,113.10 L150.16,112.87 L151.38,112.64 L152.60,112.42 L153.82,112.20 L155.03,111.99 L156.25,111.79 L157.47,111.59 L158.69,111.39 L159.91,111.21 L161.12,111.02 L162.34,110.85 L163.56,110.68 L164.78,110.51 L166.00,110.35 L167.21,110.20 L168.43,110.05 L169.65,109.91 L170.87,109.78 L172.08,109.65 L173.30,109.52 L174.52,109.41 L175.74,109.29 L176.95,109.19 L178.17,109.09 L179.39,109.00 L180.60,108.91 L181.82,108.83 L183.04,108.76 L184.26,108.70 L185.47,108.64 L186.69,108.58 L187.90,108.54 L189.12,108.50 L190.34,108.46 L191.55,108.44 L192.77,108.42 L193.99,108.41 L195.20,108.40 L196.42,108.39 L197.64,108.39 L198.85,108.40 L200.07,108.41 L201.28,108.44 L202.50,108.46 L203.72,108.50 L204.93,108.54 L206.15,108.59 L207.37,108.65 L208.58,108.72 L209.80,108.79 L211.02,108.87 L212.23,108.96 L213.45,109.06 L214.67,109.16 L215.88,109.28 L217.10,109.40 L218.32,109.53 L219.53,109.66 L220.75,109.81 L221.97,109.96 L223.19,110.12 L224.40,110.29 L225.62,110.47 L226.84,110.66 L228.06,110.85 L229.27,111.06 L230.49,111.27 L231.71,111.49 L232.93,111.72 L234.15,111.96 L235.36,112.21 L236.58,112.47 L237.80,112.73 L239.02,113.01 L240.24,113.29 L241.46,113.59 L242.67,113.89 L243.89,114.20 L245.11,114.53 L246.33,114.86 L247.55,115.20 L248.77,115.55 L249.99,115.91 L251.21,116.28 L252.43,116.67 L253.65,117.06 L254.87,117.46 L256.09,117.87 L257.31,118.29 L258.53,118.72 L259.75,119.17 L260.97,119.62 L262.19,120.08 L263.41,120.56 L264.63,121.04 L265.85,121.54 L267.07,122.05 L268.29,122.57 L269.51,123.10 L270.73,123.64 L271.95,124.19 L273.18,124.75 L274.40,125.33 L275.62,125.91 L276.84,126.51 L278.06,127.12 L279.28,127.74 L280.51,128.38 L281.73,129.02 L282.95,129.68 L284.17,130.35 L285.40,131.03 L286.62,131.72 L287.84,132.43 L289.06,133.15 L290.29,133.88 L291.51,134.63 L292.73,135.39 L293.95,136.16 L295.17,136.95 L296.40,137.75 L297.62,138.56 L298.84,139.39 L300.06,140.23 L301.28,141.08 L302.50,141.95 L303.72,142.83 L304.94,143.73 L306.17,144.64 L307.39,145.56 L308.61,146.50 L309.83,147.45 L311.05,148.42 L312.28,149.40 L313.50,150.39 L314.72,151.40 L315.94,152.43 L317.16,153.47 L318.39,154.52 L319.61,155.59 L320.83,156.68 L322.05,157.78 L323.27,158.89 L324.50,160.03 L325.72,161.17 L326.94,162.34 L328.16,163.52 L329.39,164.71 L330.61,165.92 L331.83,167.15 L333.06,168.39 L334.28,169.66 L335.50,170.93 L336.72,172.23 L337.95,173.54 L339.17,174.87 L340.39,176.21 L341.62,177.58 L342.84,178.96 L344.06,180.36 L345.29,181.77 L346.51,183.21 L347.73,184.66 L348.96,186.13 L350.18,187.62 L351.40,189.13 L352.63,190.65 L353.85,192.20 L355.07,193.76 L356.30,195.34 L357.52,196.94 L358.74,198.56 L359.97,200.20 L361.19,201.86 L362.42,203.54 L363.64,205.24 L364.86,206.96 L366.09,208.70 L367.31,210.46 L368.54,212.24 L369.76,214.04 L370.98,215.87 L372.21,217.71 L373.43,219.57 L374.66,221.46 L375.88,223.37 L377.10,225.30 L378.32,227.25 L379.54,229.22 L380.76,231.22 L381.99,233.24 L383.21,235.28 L384.43,237.34 L385.65,239.43 L386.87,241.54 L388.09,243.67 L389.32,245.82 L390.54,248.00 L391.76,250.20 L392.98,252.43 L394.20,254.68 L395.43,256.96 L396.65,259.25 L397.87,261.58 L399.09,263.93 L400.31,266.30 L401.53,268.70 L402.76,271.12 L403.98,273.57 L405.20,276.04 L406.42,278.54 L407.64,281.07 L408.87,283.62 L410.09,286.20 L411.31,288.81 L412.53,291.44 L413.75,294.10 L414.98,296.79 L416.20,299.50 L417.42,302.24 L418.64,305.01 L419.86,307.81 L421.09,310.64 L422.31,313.49 L423.53,316.38 L424.75,319.29 L425.98,322.23 L426.46,323.40" fill="none" stroke="#000" stroke-width="1.6"/>
<path d="M48.50,147.32 L49.16,146.87 L50.42,146.43 L51.67,145.98 L52.93,145.54 L54.18,145.10 L55.44,144.67 L56.69,144.24 L57.95,143.81 L59.20,143.38 L60.45,142.96 L61.71,142.55 L62.96,142.13 L64.21,141.72 L65.46,141.32 L66.71,140.92 L67.97,140.52 L69.22,140.12 L70.47,139.73 L71.71,139.34 L72.95,138.93 L74.19,138.53 L75.43,138.12 L76.67,137.73 L77.91,137.33 L79.15,136.95 L80.39,136.56 L81.63,136.18 L82.86,135.80 L84.10,135.43 L85.34,135.06 L86.57,134.70 L87.81,134.34 L89.05,133.98 L90.28,133.63 L91.52,133.28 L92.75,132.94 L93.99,132.60 L95.22,132.27 L96.46,131.94 L97.69,131.62 L98.92,131.29 L100.16,130.98 L101.39,130.67 L102.62,130.36 L103.85,130.06 L105.08,129.76 L106.31,129.47 L107.54,129.18 L108.77,128.90 L110.00,128.62 L111.23,128.33 L112.44,128.01 L113.66,127.69 L114.87,127.38 L116.09,127.07 L117.30,126.77 L118.52,126.47 L119.73,126.18 L120.95,125.90 L122.16,125.62 L123.37,125.34 L124.59,125.07 L125.80,124.80 L127.02,124.54 L128.23,124.29 L129.45,124.04 L130.66,123.79 L131.87,123.55 L133.09,123.32 L134.30,123.09 L135.51,122.87 L136.73,122.66 L137.94,122.44 L139.16,122.24 L140.37,122.04 L141.58,121.85 L142.80,121.66 L144.01,121.48 L145.22,121.30 L146.44,121.13 L147.65,120.97 L148.86,120.81 L150.07,120.66 L151.29,120.52 L152.50,120.38 L153.71,120.25 L154.93,120.12 L156.14,120.00 L157.35,119.89 L158.56,119.78 L159.78,119.69 L160.99,119.59 L162.20,119.51 L163.41,119.43 L164.63,119.35 L165.84,119.29 L167.05,119.23 L168.26,119.18 L169.47,119.13 L170.69,119.09 L171.90,119.06 L173.11,119.04 L174.32,119.02 L175.53,119.02 L176.74,119.01 L177.96,119.02 L179.17,119.03 L180.38,119.04 L181.59,119.06 L182.80,119.08 L184.02,119.11 L185.23,119.15 L186.44,119.20 L187.65,119.26 L188.86,119.32 L190.08,119.40 L191.29,119.48 L192.50,119.56 L193.72,119.66 L194.93,119.77 L196.14,119.88 L197.35,120.00 L198.57,120.13 L199.78,120.27 L200.99,120.42 L202.21,120.58 L203.42,120.74 L204.64,120.92 L205.85,121.10 L207.06,121.29 L208.28,121.50 L209.49,121.71 L210.71,121.93 L211.92,122.16 L213.14,122.40 L214.35,122.64 L215.57,122.90 L216.78,123.17 L218.00,123.45 L219.22,123.74 L220.43,124.03 L221.65,124.34 L222.87,124.66 L224.08,124.99 L225.30,125.32 L226.52,125.67 L227.73,126.03 L228.95,126.40 L230.17,126.78 L231.39,127.17 L232.60,127.57 L233.82,127.98 L235.04,128.41 L236.26,128.84 L237.48,129.29 L238.70,129.74 L239.92,130.21 L241.13,130.69 L242.35,131.18 L243.57,131.69 L244.79,132.20 L246.02,132.72 L247.24,133.26 L248.46,133.81 L249.68,134.37 L250.90,134.94 L252.12,135.53 L253.35,136.12 L254.57,136.73 L255.79,137.36 L257.02,137.99 L258.24,138.64 L259.46,139.30 L260.69,139.98 L261.91,140.67 L263.14,141.37 L264.36,142.08 L265.58,142.81 L266.81,143.55 L268.03,144.31 L269.26,145.08 L270.49,145.86 L271.71,146.66 L272.94,147.47 L274.16,148.29 L275.39,149.13 L276.61,149.99 L277.83,150.86 L279.05,151.74 L280.27,152.64 L281.49,153.56 L282.71,154.49 L283.93,155.43 L285.15,156.39 L286.37,157.37 L287.59,158.37 L288.81,159.38 L290.02,160.40 L291.24,161.44 L292.46,162.50 L293.68,163.57 L294.90,164.67 L296.12,165.77 L297.34,166.90 L298.56,168.04 L299.78,169.19 L301.00,170.37 L302.22,171.56 L303.44,172.77 L304.66,174.00 L305.88,175.24 L307.10,176.50 L308.33,177.79 L309.55,179.08 L310.77,180.40 L311.99,181.74 L313.21,183.09 L314.43,184.46 L315.65,185.85 L316.88,187.26 L318.10,188.69 L319.32,190.14 L320.54,191.61 L321.77,193.10 L322.99,194.61 L324.21,196.13 L325.43,197.68 L326.64,199.26 L327.86,200.86 L329.07,202.47 L330.28,204.11 L331.50,205.77 L332.71,207.44 L333.92,209.14 L335.13,210.87 L336.35,212.61 L337.56,214.37 L338.77,216.16 L339.99,217.97 L341.20,219.80 L342.42,221.65 L343.64,223.52 L344.87,225.42 L346.09,227.34 L347.31,229.29 L348.54,231.26 L349.76,233.25 L350.98,235.26 L352.20,237.30 L353.43,239.36 L354.65,241.45 L355.87,243.56 L357.09,245.70 L358.31,247.86 L359.54,250.04 L360.76,252.26 L361.98,254.49 L363.20,256.75 L364.43,259.04 L365.65,261.36 L366.87,263.70 L368.09,266.07 L369.32,268.46 L370.54,270.88 L371.76,273.33 L372.99,275.81 L374.21,278.31 L375.43,280.84 L376.65,283.40 L377.88,285.99 L379.10,288.60 L380.32,291.25 L381.54,293.92 L382.76,296.63 L383.99,299.36 L385.21,302.12 L386.43,304.92 L387.66,307.74 L388.88,310.59 L390.10,313.48 L391.32,316.39 L392.54,319.34 L393.77,322.32 L394.21,323.40" fill="none" stroke="#000" stroke-width="1.6"/>
<path d="M49.16,154.09 L50.38,153.66 L51.59,153.25 L52.81,152.83 L54.03,152.42 L55.25,152.01 L56.46,151.60 L57.68,151.20 L58.90,150.80 L60.12,150.41 L61.33,150.02 L62.55,149.63 L63.77,149.25 L64.98,148.87 L66.20,148.49 L67.42,148.12 L68.64,147.75 L69.85,147.39 L71.07,147.03 L72.29,146.68 L73.50,146.33 L74.72,145.98 L75.93,145.64 L77.15,145.30 L78.37,144.96 L79.58,144.63 L80.80,144.31 L82.02,143.99 L83.23,143.67 L84.45,143.36 L85.66,143.05 L86.88,142.75 L88.09,142.45 L89.31,142.15 L90.52,141.86 L91.74,141.58 L92.95,141.30 L94.17,141.03 L95.38,140.76 L96.60,140.49 L97.81,140.23 L99.03,139.98 L100.24,139.73 L101.46,139.48 L102.67,139.24 L103.89,139.01 L105.10,138.78 L106.32,138.56 L107.53,138.34 L108.74,138.12 L109.96,137.92 L111.17,137.72 L112.38,137.52 L113.60,137.33 L114.81,137.14 L116.02,136.96 L117.24,136.78 L118.45,136.61 L119.66,136.45 L120.87,136.29 L122.09,136.14 L123.30,135.99 L124.51,135.85 L125.72,135.71 L126.93,135.59 L128.15,135.47 L129.36,135.35 L130.57,135.24 L131.78,135.14 L132.99,135.04 L134.21,134.96 L135.42,134.87 L136.63,134.80 L137.84,134.73 L139.05,134.67 L140.26,134.61 L141.47,134.57 L142.68,134.53 L143.90,134.49 L145.11,134.47 L146.32,134.45 L147.53,134.44 L148.74,134.44 L149.95,134.44 L151.16,134.45 L152.37,134.47 L153.58,134.50 L154.79,134.54 L156.00,134.58 L157.21,134.63 L158.42,134.69 L159.63,134.76 L160.84,134.84 L162.05,134.92 L163.26,135.01 L164.47,135.11 L165.68,135.22 L166.89,135.34 L168.10,135.47 L169.31,135.61 L170.52,135.75 L171.73,135.91 L172.94,136.07 L174.15,136.24 L175.36,136.43 L176.57,136.62 L177.78,136.82 L178.99,137.02 L180.20,137.22 L181.41,137.44 L182.63,137.66 L183.84,137.89 L185.06,138.13 L186.27,138.38 L187.48,138.65 L188.70,138.92 L189.91,139.20 L191.13,139.50 L192.35,139.80 L193.56,140.12 L194.78,140.45 L196.00,140.78 L197.21,141.13 L198.43,141.49 L199.65,141.87 L200.87,142.25 L202.09,142.65 L203.30,143.05 L204.52,143.47 L205.74,143.91 L206.96,144.35 L208.18,144.81 L209.40,145.27 L210.63,145.76 L211.85,146.24 L213.08,146.73 L214.31,147.24 L215.54,147.76 L216.77,148.29 L218.00,148.84 L219.23,149.40 L220.46,149.97 L221.69,150.56 L222.93,151.16 L224.16,151.78 L225.39,152.41 L226.63,153.06 L227.86,153.72 L229.10,154.39 L230.33,155.08 L231.53,155.78 L232.71,156.50 L233.90,157.24 L235.08,157.99 L236.27,158.75 L237.46,159.54 L238.64,160.34 L239.83,161.15 L241.02,161.99 L242.21,162.84 L243.40,163.70 L244.58,164.60 L245.75,165.52 L246.93,166.45 L248.11,167.40 L249.28,168.37 L250.46,169.36 L251.64,170.36 L252.82,171.39 L253.99,172.43 L255.17,173.49 L256.35,174.56 L257.53,175.66 L258.71,176.77 L259.92,177.91 L261.15,179.08 L262.37,180.26 L263.60,181.46 L264.83,182.68 L266.06,183.92 L267.28,185.18 L268.51,186.47 L269.74,187.77 L270.97,189.09 L272.19,190.43 L273.42,191.80 L274.65,193.18 L275.88,194.59 L277.10,196.02 L278.33,197.47 L279.56,198.94 L280.79,200.43 L282.01,201.95 L283.24,203.49 L284.48,205.05 L285.73,206.64 L286.98,208.25 L288.22,209.88 L289.47,211.54 L290.72,213.22 L291.97,214.92 L293.21,216.65 L294.46,218.41 L295.71,220.19 L296.96,221.99 L298.20,223.82 L299.45,225.68 L300.70,227.56 L301.95,229.47 L303.19,231.40 L304.44,233.37 L305.69,235.36 L306.94,237.37 L308.18,239.42 L309.42,241.49 L310.64,243.59 L311.86,245.72 L313.08,247.88 L314.31,250.07 L315.53,252.28 L316.75,254.53 L317.98,256.80 L319.20,259.11 L320.42,261.45 L321.65,263.82 L322.87,266.21 L324.09,268.64 L325.31,271.11 L326.54,273.60 L327.76,276.13 L328.98,278.69 L330.21,281.28 L331.43,283.91 L332.65,286.57 L333.88,289.26 L335.10,291.99 L336.32,294.75 L337.55,297.55 L338.77,300.38 L339.99,303.25 L341.21,306.16 L342.44,309.10 L343.66,312.08 L344.88,315.09 L346.11,318.15 L347.33,321.24 L348.17,323.40" fill="none" stroke="#000" stroke-width="1.6"/>
<path d="M49.23,162.46 L50.45,162.17 L51.65,161.89 L52.86,161.61 L54.07,161.34 L55.28,161.07 L56.49,160.81 L57.69,160.55 L58.90,160.30 L60.11,160.05 L61.32,159.81 L62.53,159.57 L63.73,159.34 L64.94,159.11 L66.15,158.89 L67.36,158.67 L68.56,158.46 L69.77,158.26 L70.98,158.06 L72.18,157.86 L73.39,157.67 L74.60,157.49 L75.80,157.31 L77.01,157.14 L78.22,156.98 L79.42,156.82 L80.63,156.67 L81.83,156.52 L83.04,156.38 L84.25,156.24 L85.45,156.12 L86.66,156.00 L87.86,155.88 L89.07,155.77 L90.27,155.67 L91.48,155.58 L92.68,155.49 L93.89,155.41 L95.09,155.34 L96.30,155.27 L97.50,155.21 L98.71,155.16 L99.91,155.12 L101.12,155.08 L102.32,155.05 L103.53,155.03 L104.73,155.02 L105.93,155.01 L107.14,155.02 L108.34,155.03 L109.55,155.05 L110.75,155.07 L111.95,155.11 L113.16,155.16 L114.36,155.19 L115.57,155.23 L116.77,155.28 L117.98,155.34 L119.18,155.41 L120.39,155.49 L121.60,155.57 L122.80,155.67 L124.01,155.77 L125.22,155.89 L126.43,156.01 L127.64,156.15 L128.84,156.29 L130.05,156.44 L131.26,156.61 L132.47,156.78 L133.68,156.97 L134.89,157.17 L136.10,157.38 L137.31,157.59 L138.53,157.82 L139.74,158.06 L140.95,158.32 L142.17,158.58 L143.38,158.86 L144.59,159.15 L145.81,159.45 L147.02,159.76 L148.24,160.08 L149.46,160.42 L150.67,160.77 L151.89,161.13 L153.11,161.51 L154.33,161.90 L155.55,162.30 L156.76,162.72 L157.99,163.15 L159.21,163.59 L160.43,164.05 L161.65,164.52 L162.87,165.01 L164.10,165.51 L165.32,166.02 L166.54,166.56 L167.77,167.11 L168.99,167.67 L170.21,168.25 L171.37,168.84 L172.55,169.45 L173.73,170.08 L174.91,170.73 L176.09,171.39 L177.27,172.07 L178.45,172.76 L179.63,173.48 L180.81,174.21 L181.99,174.96 L183.17,175.72 L184.36,176.51 L185.54,177.31 L186.72,178.14 L187.91,178.98 L189.09,179.84 L190.28,180.72 L191.47,181.62 L192.65,182.54 L193.84,183.47 L195.04,184.42 L196.24,185.39 L197.44,186.38 L198.64,187.39 L199.84,188.43 L201.04,189.48 L202.25,190.56 L203.47,191.66 L204.70,192.78 L205.92,193.93 L207.14,195.10 L208.37,196.29 L209.59,197.50 L210.80,198.76 L212.00,200.05 L213.20,201.36 L214.40,202.70 L215.60,204.06 L216.81,205.44 L218.01,206.86 L219.21,208.29 L220.41,209.76 L221.61,211.25 L222.81,212.77 L224.02,214.31 L225.22,215.88 L226.44,217.48 L227.71,219.11 L228.98,220.77 L230.24,222.45 L231.51,224.17 L232.78,225.91 L234.05,227.69 L235.31,229.49 L236.58,231.33 L237.85,233.19 L239.12,235.09 L240.38,237.02 L241.65,238.98 L242.92,240.98 L244.19,243.00 L245.46,245.06 L246.74,247.15 L248.01,249.28 L249.28,251.44 L250.55,253.64 L251.82,255.88 L253.09,258.15 L254.37,260.45 L255.64,262.79 L256.91,265.17 L258.18,267.59 L259.46,270.05 L260.72,272.55 L261.98,275.09 L263.24,277.67 L264.50,280.29 L265.75,282.95 L267.01,285.65 L268.27,288.40 L269.53,291.18 L270.79,294.01 L272.05,296.89 L273.31,299.80 L274.56,302.76 L275.82,305.77 L277.07,308.82 L278.30,311.92 L279.52,315.06 L280.74,318.25 L281.97,321.49 L282.68,323.40" fill="none" stroke="#000" stroke-width="1.6"/>
</g>
<path d="M48.5,11.65 V323.9 M537.0,11.65 V323.9 M48.0,12.15 H537.5 M48.0,323.4 H537.5" fill="none" stroke="#000" stroke-width="1"/>
<text x="49.9" y="337.3" text-anchor="middle" class="tk">0</text>
<path d="M129.9,323.4 v-4.8 M129.9,12.15 v4.8" stroke="#000" stroke-width="1"/>
<text x="131.3" y="337.3" text-anchor="middle" class="tk">0.5</text>
<path d="M211.3,323.4 v-4.8 M211.3,12.15 v4.8" stroke="#000" stroke-width="1"/>
<text x="212.7" y="337.3" text-anchor="middle" class="tk">1</text>
<path d="M292.7,323.4 v-4.8 M292.7,12.15 v4.8" stroke="#000" stroke-width="1"/>
<text x="294.1" y="337.3" text-anchor="middle" class="tk">1.5</text>
<path d="M374.2,323.4 v-4.8 M374.2,12.15 v4.8" stroke="#000" stroke-width="1"/>
<text x="375.6" y="337.3" text-anchor="middle" class="tk">2</text>
<path d="M455.6,323.4 v-4.8 M455.6,12.15 v4.8" stroke="#000" stroke-width="1"/>
<text x="457.0" y="337.3" text-anchor="middle" class="tk">2.5</text>
<text x="538.4" y="337.3" text-anchor="middle" class="tk">3</text>
<path d="M48.5,43.3 h4.8 M537.0,43.3 h-4.8" stroke="#000" stroke-width="1"/>
<text x="41.6" y="47.1" text-anchor="end" class="tk">-20</text>
<path d="M48.5,105.5 h4.8 M537.0,105.5 h-4.8" stroke="#000" stroke-width="1"/>
<text x="41.6" y="109.3" text-anchor="end" class="tk">-21</text>
<path d="M48.5,167.8 h4.8 M537.0,167.8 h-4.8" stroke="#000" stroke-width="1"/>
<text x="41.6" y="171.6" text-anchor="end" class="tk">-22</text>
<path d="M48.5,230.0 h4.8 M537.0,230.0 h-4.8" stroke="#000" stroke-width="1"/>
<text x="41.6" y="233.8" text-anchor="end" class="tk">-23</text>
<path d="M48.5,292.3 h4.8 M537.0,292.3 h-4.8" stroke="#000" stroke-width="1"/>
<text x="41.6" y="296.1" text-anchor="end" class="tk">-24</text>

<text transform="translate(472.3,231.8) scale(1.08,1)" text-anchor="end" class="lg">β=1</text>
<path d="M482.9,226.2 H513.7" stroke="#0000ff" stroke-width="3.2" stroke-dasharray="1.6 2.28" fill="none"/>
<text transform="translate(472.3,248.8) scale(1.08,1)" text-anchor="end" class="lg">β=3/2</text>
<path d="M482.9,243.2 H513.7" stroke="#ff00ff" stroke-width="3.1" stroke-dasharray="1.05 1.05" fill="none"/>
<text transform="translate(472.3,265.8) scale(1.08,1)" text-anchor="end" class="lg">β=5/3</text>
<path d="M482.9,260.2 H513.7" stroke="#6a6a6a" stroke-width="3.0" stroke-dasharray="2.2 2.4 0.8 2.7" fill="none"/>
<text transform="translate(472.3,282.8) scale(1.08,1)" text-anchor="end" class="lg">β=2</text>
<path d="M482.9,277.2 H513.7" stroke="#ff0000" stroke-width="3.2" stroke-dasharray="5 1.4 1.2 1.0" fill="none"/>
<text transform="translate(472.3,299.8) scale(1.08,1)" text-anchor="end" class="lg">β=3</text>
<path d="M482.9,294.2 H513.7" stroke="#00ff00" stroke-width="3.3" stroke-dasharray="3.3 1.3" fill="none"/>

<text transform="translate(65,235.7) scale(1.066,1)" class="an">Thomson regime</text>
<text transform="translate(65,260.4) scale(1.066,1)" class="an">Maxwell-like electrons</text>
<text transform="translate(65,284.4) scale(1.066,1)" class="an">Planckian photons</text>
<text transform="translate(236,352.9) scale(1.075,1)" class="ax"><tspan x="0" y="0">Log (E</tspan><tspan class="sy" x="37.85" y="3.8">γ</tspan><tspan x="42.3" y="0">/4KT E</tspan><tspan class="ss" x="81.5" y="-6.2">2</tspan><tspan class="ss" x="87.2" y="3.8">cut</tspan><tspan x="100.9" y="0">)</tspan></text>
<text transform="translate(15.6,252.0) rotate(-90) scale(1.006,1.13)" class="ax"><tspan x="0" y="0">Log (E</tspan><tspan class="ss" x="37.85" y="-5.9">2</tspan><tspan class="sy" x="43.55" y="3.8">γ</tspan><tspan x="47.4" y="0">dN</tspan><tspan class="sy" x="63.9" y="3.8">γ</tspan><tspan x="68" y="0">/dE</tspan><tspan class="sy" x="87.3" y="3.8">γ</tspan><tspan x="91.3" y="0">dt) [arb.units]</tspan></text>
</svg>
</body></html>
